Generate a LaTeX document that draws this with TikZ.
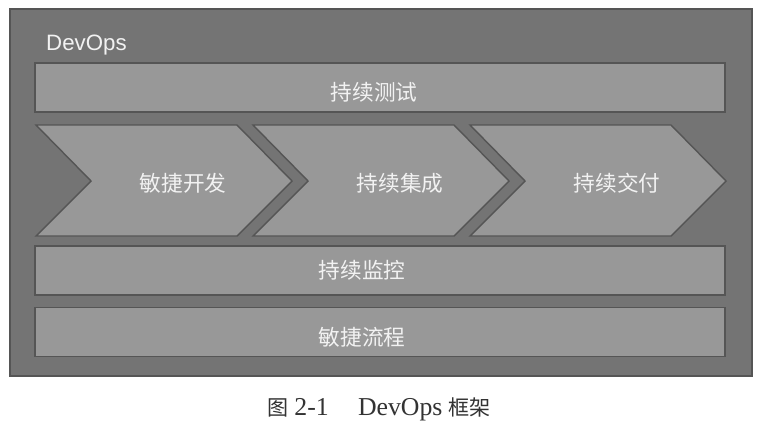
\documentclass[tikz,border=0pt]{standalone}
\usepackage{fontspec}
\setmainfont{Liberation Serif}
\setsansfont{Liberation Sans}
\newfontfamily\cjk{Noto Sans CJK SC}
\definecolor{frame}{HTML}{747474}
\definecolor{barfill}{HTML}{989898}
\definecolor{edge}{HTML}{555555}
\definecolor{txt}{HTML}{F2F2F2}
\begin{document}
\begin{tikzpicture}[x=0.03cm,y=-0.03cm,
  bar/.style={draw=edge,line width=1.2pt,fill=barfill,minimum width=20.7cm,minimum height=1.47cm,inner sep=0pt},
  chev/.style={draw=edge,line width=1.2pt,fill=barfill,line join=miter},
  lbl/.style={text=txt,font=\cjk\fontsize{18.5}{20}\selectfont,inner sep=0pt}]
\fill[white] (0,0) rectangle (762,438);
\useasboundingbox (0,0) rectangle (762,438);
\draw[draw=edge,fill=frame,line width=1pt] (10,9) rectangle (752,376);
\node[text=txt,font=\sffamily\fontsize{19}{22}\selectfont,anchor=west,inner sep=0pt] (devops) at (46,45) {DevOps};
\node[bar] (test) at (380,87.5) {};
\node[lbl] (testlbl) at (374,92) {持续测试};
\foreach \x/\t/\n in {36/敏捷开发/dev,253/持续集成/ci,470/持续交付/cd} {
  \draw[chev] (\x,125) -- ++(201,0) -- ++(55,56) -- ++(-55,55) -- ++(-201,0) -- ++(55,-55) -- cycle;
  \node[lbl] (\n) at (\x+147,183) {\t};
}
\node[bar] (monitor) at (380,270.5) {};
\node[lbl] (monitorlbl) at (362,270) {持续监控};
\node[bar] (agile) at (380,332) {};
\node[lbl] (agilelbl) at (362,337) {敏捷流程};
\node[font=\fontsize{22}{24}\selectfont,text=black!80] (caption) at (379,409)
  {{\cjk\fontsize{18}{20}\selectfont 图}\hspace{5pt}2-1\hspace{25pt}DevOps\hspace{5pt}{\cjk\fontsize{18}{20}\selectfont 框架}};
\end{tikzpicture}
\end{document}
